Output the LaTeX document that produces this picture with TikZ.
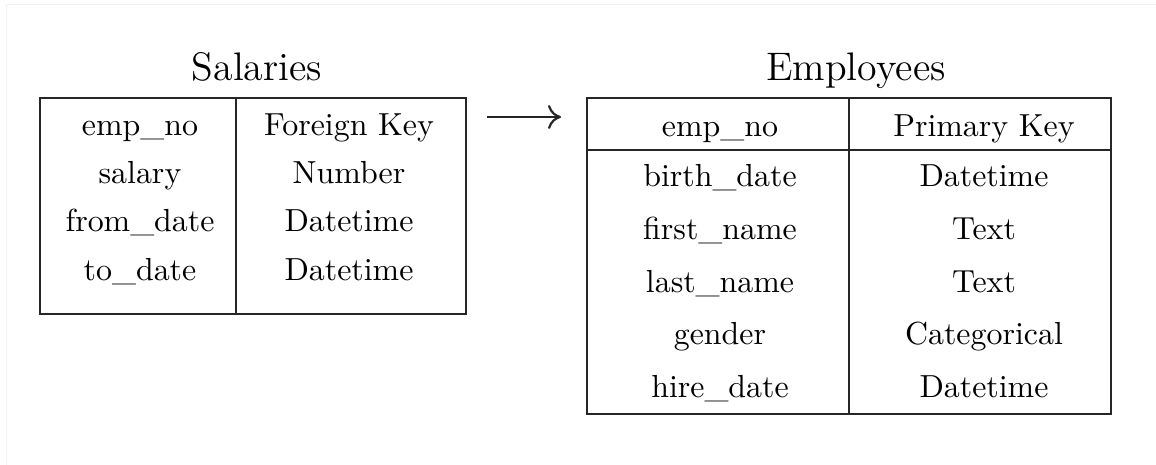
\documentclass[tikz,border=0pt]{standalone}
\usepackage{fontspec}
\setmainfont{lmroman10-regular.otf}
\newfontfamily\titlefont{lmroman12-regular.otf}
\usetikzlibrary{arrows.meta,calc}
\tikzset{
  tablebox/.style={draw=black!85, line width=2.6pt, inner sep=0pt, outer sep=0pt,
                   anchor=north west},
  rule/.style={draw=black!85, line width=2.6pt},
  cell/.style={anchor=base, inner sep=0pt, font=\fontsize{31.9pt}{38pt}\selectfont},
  tabtitle/.style={anchor=base, inner sep=0pt, font=\titlefont\fontsize{39.8pt}{48pt}\selectfont},
  link/.style={draw=black!85, line width=2.2pt, -{To[length=13pt,width=24pt]}}
}
\begin{document}
\begin{tikzpicture}[x=1pt,y=-1pt]
\useasboundingbox (0,0) rectangle (1156,465);
\fill[white] (0,0) rectangle (1156,465);
\draw[black!5, line width=1pt] (6,465) -- (6,5) -- (1156,5);

% Salaries table
\node[tabtitle] (saltitle) at (257,81) {Salaries};
\node[tablebox, minimum width=426pt, minimum height=216pt] (sal) at (40,98) {};
\draw[rule] ($(sal.north west)+(196,0)$) -- ($(sal.south west)+(196,0)$);
\node[cell] (s1) at (140,136) {emp\_no};
\node[cell] (s2) at (140,184) {salary};
\node[cell] (s3) at (140,232) {from\_date};
\node[cell] (s4) at (140,280) {to\_date};
\node[cell] (t1) at (349,136) {Foreign Key};
\node[cell] (t2) at (349,184) {Number};
\node[cell] (t3) at (349,232) {Datetime};
\node[cell] (t4) at (349,280) {Datetime};

% Employees table
\node[tabtitle] (emptitle) at (856,81) {Employees};
\node[tablebox, minimum width=524pt, minimum height=316pt] (emp) at (587,98) {};
\draw[rule] ($(emp.north west)+(262,0)$) -- ($(emp.south west)+(262,0)$);
\draw[rule] ($(emp.north west)+(0,52)$) -- ($(emp.north east)+(0,52)$);
\node[cell] (e0) at (720,137) {emp\_no};
\node[cell] (e1) at (720,187) {birth\_date};
\node[cell] (e2) at (720,240) {first\_name};
\node[cell] (e3) at (720,292) {last\_name};
\node[cell] (e4) at (720,344) {gender};
\node[cell] (e5) at (720,397) {hire\_date};
\node[cell] (f0) at (984,137) {Primary Key};
\node[cell] (f1) at (984,187) {Datetime};
\node[cell] (f2) at (984,240) {Text};
\node[cell] (f3) at (984,292) {Text};
\node[cell] (f4) at (984,344) {Categorical};
\node[cell] (f5) at (984,397) {Datetime};

% Reference arrow
\coordinate (a0) at ($(sal.north east)+(21,19)$);
\coordinate (a1) at ($(emp.north west)+(-26,19)$);
\draw[link] (a0) -- (a1);
\end{tikzpicture}
\end{document}
